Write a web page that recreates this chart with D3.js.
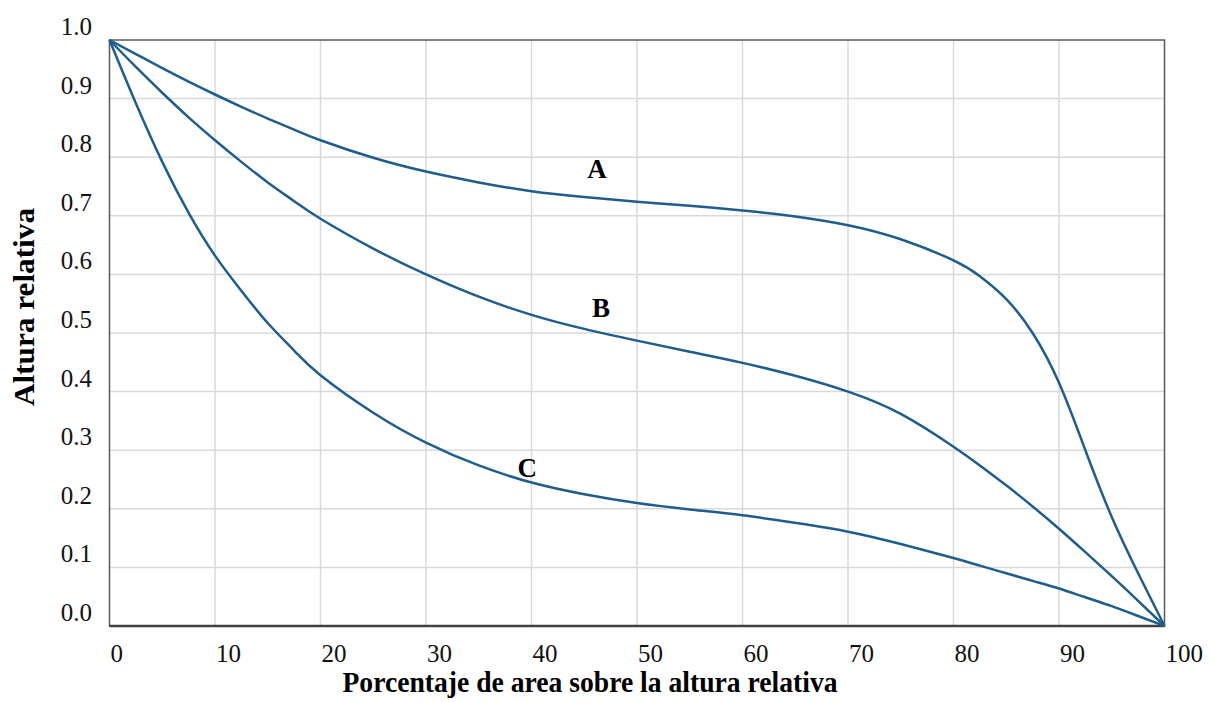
<!DOCTYPE html>
<html lang="es">
<head>
<meta charset="UTF-8">
<title>Altura relativa</title>
<style>
  body { margin: 0; background: #fff; }
  svg { display: block; font-family: "Liberation Serif", "Times New Roman", serif; }
</style>
</head>
<body>
<script src="https://d3js.org/d3.v7.min.js"></script>
<script>
// porcentaje de area (eje x)
var pct = [0, 2.5, 5, 7.5, 10, 12.5, 15, 17.5, 20, 25, 30, 35, 40, 45, 50, 55, 60, 65, 70, 75, 80, 82.5, 85, 87.5, 90, 92.5, 95, 97.5, 100];

// altura relativa para cada curva
var curveA = [1.0, 0.976, 0.952, 0.929, 0.907, 0.886, 0.866, 0.847, 0.829, 0.799, 0.7755, 0.757, 0.742, 0.732, 0.724, 0.717, 0.709, 0.699, 0.684, 0.660, 0.624, 0.597, 0.558, 0.500, 0.415, 0.300, 0.186, 0.090, 0.0];
var curveB = [1.0, 0.954, 0.910, 0.868, 0.829, 0.792, 0.757, 0.725, 0.695, 0.644, 0.600, 0.562, 0.531, 0.507, 0.487, 0.468, 0.449, 0.427, 0.400, 0.362, 0.306, 0.274, 0.240, 0.204, 0.166, 0.126, 0.085, 0.043, 0.0];
var curveC = [1.0, 0.892, 0.792, 0.705, 0.632, 0.572, 0.517, 0.470, 0.428, 0.364, 0.313, 0.274, 0.245, 0.225, 0.210, 0.199, 0.189, 0.176, 0.161, 0.140, 0.116, 0.103, 0.090, 0.077, 0.064, 0.049, 0.034, 0.017, 0.0];

var curveNames = ["A", "B", "C"];
var labelPos = [[46.2, 0.765], [46.6, 0.527], [39.6, 0.254]];

var xTicks = [0, 10, 20, 30, 40, 50, 60, 70, 80, 90, 100];
var yTicks = [0.0, 0.1, 0.2, 0.3, 0.4, 0.5, 0.6, 0.7, 0.8, 0.9, 1.0];

var W = 1210, H = 702;
var margin = {left: 109.5, right: 45.5, top: 40, bottom: 76};

var svg = d3.select("body").append("svg")
  .attr("width", W)
  .attr("height", H);

var x = d3.scaleLinear().domain([0, 100]).range([margin.left, W - margin.right]);
var y = d3.scaleLinear().domain([0, 1]).range([H - margin.bottom, margin.top]);

// rejilla
svg.append("g").selectAll("line")
  .data(xTicks.slice(1, -1))
  .enter().append("line")
  .attr("x1", function(d) { return x(d); })
  .attr("x2", function(d) { return x(d); })
  .attr("y1", y(0)).attr("y2", y(1))
  .attr("stroke", "#d9d9d9").attr("stroke-width", 1.5);

svg.append("g").selectAll("line")
  .data(yTicks.slice(1, -1))
  .enter().append("line")
  .attr("x1", x(0)).attr("x2", x(100))
  .attr("y1", function(d) { return y(d); })
  .attr("y2", function(d) { return y(d); })
  .attr("stroke", "#d9d9d9").attr("stroke-width", 1.5);

// marco
svg.append("rect")
  .attr("x", x(0)).attr("y", y(1))
  .attr("width", x(100) - x(0)).attr("height", y(0) - y(1))
  .attr("fill", "none").attr("stroke", "#595959").attr("stroke-width", 1.5);
svg.append("line")
  .attr("x1", x(0)).attr("x2", x(100))
  .attr("y1", y(0)).attr("y2", y(0))
  .attr("stroke", "#404040").attr("stroke-width", 2.5);

// etiquetas de los ejes
svg.append("g").selectAll("text")
  .data(xTicks)
  .enter().append("text")
  .attr("x", function(d) { return x(d) + 1; })
  .attr("y", y(0) + 36)
  .attr("font-size", "25px")
  .attr("fill", "#111")
  .text(function(d) { return d; });

svg.append("g").selectAll("text")
  .data(yTicks)
  .enter().append("text")
  .attr("x", 92)
  .attr("y", function(d) { return y(d) - 5; })
  .attr("text-anchor", "end")
  .attr("font-size", "25px")
  .attr("fill", "#111")
  .text(function(d) { return d.toFixed(1); });

// titulos
svg.append("text")
  .attr("x", 590).attr("y", 692)
  .attr("text-anchor", "middle")
  .attr("font-size", "29px").attr("font-weight", "bold")
  .attr("textLength", 495).attr("lengthAdjust", "spacingAndGlyphs")
  .text("Porcentaje de area sobre la altura relativa");

svg.append("text")
  .attr("transform", "translate(34,307) rotate(-90)")
  .attr("text-anchor", "middle")
  .attr("font-size", "29px").attr("font-weight", "bold")
  .attr("textLength", 198).attr("lengthAdjust", "spacingAndGlyphs")
  .text("Altura relativa");

// curvas
var line = d3.line()
  .x(function(d) { return x(d[0]); })
  .y(function(d) { return y(d[1]); })
  .curve(d3.curveNatural);

[curveA, curveB, curveC].forEach(function(vals) {
  svg.append("path")
    .datum(pct.map(function(p, i) { return [p, vals[i]]; }))
    .attr("fill", "none")
    .attr("stroke", "#1f5d8c")
    .attr("stroke-width", 2.5)
    .attr("d", line);
});

svg.append("g").selectAll("text")
  .data(curveNames)
  .enter().append("text")
  .attr("x", function(d, i) { return x(labelPos[i][0]); })
  .attr("y", function(d, i) { return y(labelPos[i][1]); })
  .attr("text-anchor", "middle")
  .attr("font-size", "27px").attr("font-weight", "bold")
  .text(function(d) { return d; });
</script>
</body>
</html>
